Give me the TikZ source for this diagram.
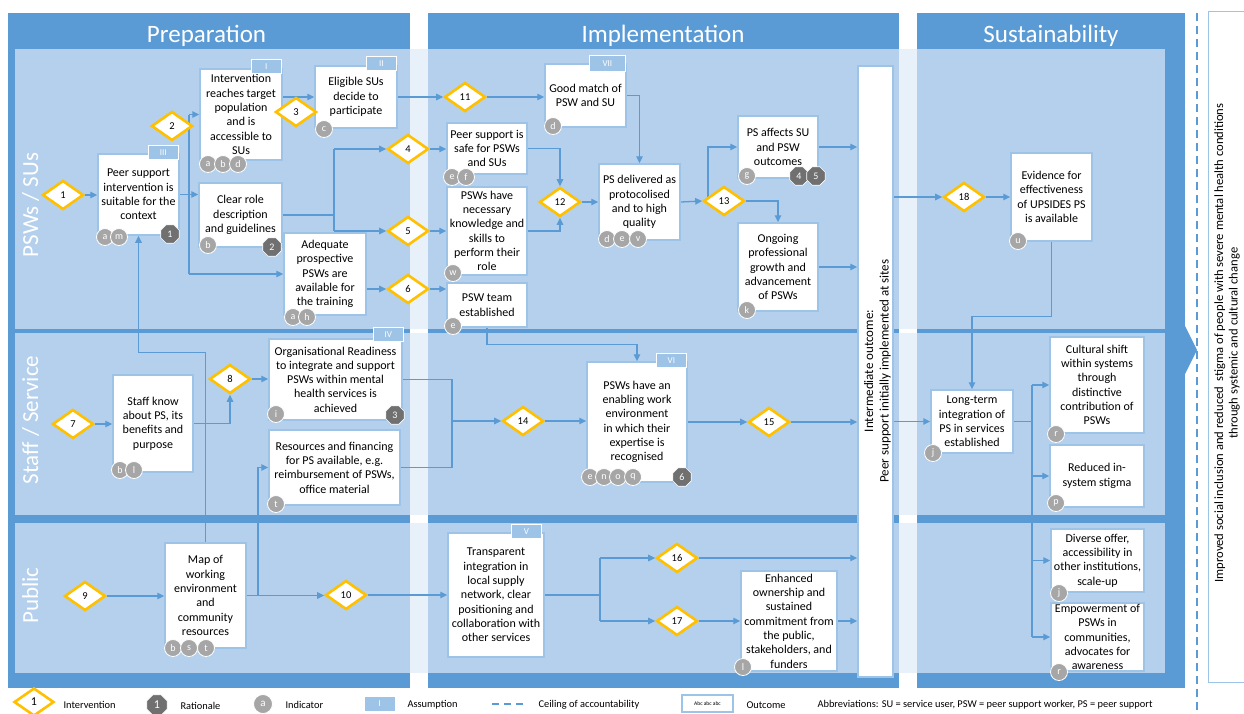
\documentclass[tikz,border=0pt]{standalone}
\usepackage{fontspec}
\setmainfont{Carlito}
\usepackage{tikz}
\usetikzlibrary{arrows.meta, shapes.geometric, calc}
\definecolor{colblue}{RGB}{91, 155, 213}
\definecolor{lanefill}{RGB}{180, 208, 236}
\definecolor{gapfill}{RGB}{232, 240, 249}
\definecolor{boxline}{RGB}{157, 195, 230}
\definecolor{indgray}{RGB}{166, 166, 166}
\definecolor{ratgray}{RGB}{112, 112, 112}
\definecolor{ivyellow}{RGB}{255, 192, 0}
\pgfdeclarelayer{bg}
\pgfdeclarelayer{links}
\pgfsetlayers{bg,links,main}

\begin{document}
\begin{tikzpicture}[x=1pt, y=-1pt,
  outcome/.style={draw=boxline, line width=1.5pt, fill=white, align=center, inner sep=0pt, font=\fontsize{12}{14.3}\selectfont},
  interv/.style={diamond, draw=ivyellow, line width=2.6pt, fill=white, minimum width=41, minimum height=29, inner sep=0pt, font=\fontsize{10.5}{12}\selectfont},
  assum/.style={fill=boxline, draw=white, line width=0.8pt, text=white, minimum width=30, minimum height=14, inner sep=0pt, anchor=north east, font=\fontsize{9}{10}\selectfont},
  indic/.style={circle, fill=indgray, draw=white, line width=0.8pt, text=white, minimum size=17, inner sep=0pt, font=\fontsize{10}{10}\selectfont},
  ration/.style={regular polygon, regular polygon sides=8, fill=ratgray, draw=white, line width=0.6pt, text=white, minimum size=20, inner sep=0pt, font=\fontsize{10}{10}\selectfont},
  link/.style={draw=colblue, line width=1.3pt, -{Triangle[length=7pt, width=6.5pt]}},
  wire/.style={draw=colblue, line width=1.3pt},
  lanelabel/.style={rotate=90, anchor=base, text=white, font=\fontsize{23}{23}\selectfont},
  phase/.style={anchor=base, text=white, font=\fontsize{25}{25}\selectfont},
  legend/.style={anchor=west, font=\fontsize{10.4}{12}\selectfont}]
  \useasboundingbox (0,0) rectangle (1244,713);

  \begin{pgfonlayer}{bg}
    \fill[white] (0,0) rectangle (1244,713);
    \fill[colblue] (8,13) rectangle (410,688);
    \fill[colblue] (428,13) rectangle (899,688);
    \fill[colblue] (917,13) rectangle (1185,688);
    \fill[colblue] (1185,326) -- (1197,350) -- (1185,374) -- cycle;
    \foreach \ya/\yb in {49/329, 333/515, 523/673} {
      \fill[lanefill] (15,\ya) rectangle (1165,\yb);
      \fill[gapfill] (410,\ya) rectangle (428,\yb);
      \fill[gapfill] (899,\ya) rectangle (917,\yb);
    }
    \draw[colblue, line width=1.5pt, dash pattern=on 8pt off 5pt] (1197,13) -- (1197,713);
  \end{pgfonlayer}

  \node[phase] (hprep) at (206.5,42) {Preparation};
  \node[phase] (himpl) at (663,42) {Implementation};
  \node[phase] (hsust) at (1051,42) {Sustainability};
  \node[lanelabel] (lpsw) at (38,205) {PSWs / SUs};
  \node[lanelabel] (lstaff) at (38,420) {Staff / Service};
  \node[lanelabel] (lpub) at (38,595.5) {Public};

  \node[draw=boxline, line width=1.5pt, fill=white, minimum width=35, minimum height=611, inner sep=0pt] (interm) at (875.5,371.5) {};
  \node[rotate=90, align=center, font=\fontsize{13}{15.5}\selectfont] (intermtext) at (877.5,371) {Intermediate outcome:\\Peer support initially implemented at sites};
  \node[draw=boxline, line width=1pt, fill=white, minimum width=42, minimum height=671, inner sep=0pt] (finalout) at (1229,346.5) {};
  \node[rotate=90, align=center, font=\fontsize{12.6}{14.6}\selectfont] (finaltext) at (1227,343) {Improved social inclusion and reduced \ stigma of people with severe mental health conditions\\through systemic and cultural change};

  \node[outcome, minimum width=81, minimum height=81] (suitable) at (138.5,194.5) {Peer support\\intervention is\\suitable for the\\context};
  \node[outcome, minimum width=82, minimum height=91] (reach) at (241,114.5) {Intervention\\reaches target\\population\\and is\\accessible to\\SUs};
  \node[outcome, minimum width=82, minimum height=62] (eligible) at (356,97) {Eligible SUs\\decide to\\participate};
  \node[outcome, minimum width=83, minimum height=64] (role) at (240.5,215) {Clear role\\description\\and guidelines};
  \node[outcome, minimum width=82, minimum height=82] (adequate) at (325,274) {Adequate\\prospective\\PSWs are\\available for\\the training};
  \node[outcome, minimum width=81, minimum height=63] (match) at (585.5,95.5) {Good match of\\PSW and SU};
  \node[outcome, minimum width=80, minimum height=51] (safe) at (487,148.5) {Peer support is\\safe for PSWs\\and SUs};
  \node[outcome, minimum width=80, minimum height=88] (skills) at (487,231) {PSWs have\\necessary\\knowledge and\\skills to\\perform their\\role};
  \node[outcome, minimum width=80, minimum height=44] (team) at (487,305) {PSW team\\established};
  \node[outcome, minimum width=81, minimum height=76] (deliver) at (639.5,202) {PS delivered as\\protocolised\\and to high\\quality};
  \node[outcome, minimum width=80, minimum height=62] (affect) at (778,147) {PS affects SU\\and PSW\\outcomes};
  \node[outcome, minimum width=80, minimum height=88] (growth) at (778,267) {Ongoing\\professional\\growth and\\advancement\\of PSWs};
  \node[outcome, minimum width=81, minimum height=88] (evidence) at (1051.5,197) {Evidence for\\effectiveness\\of UPSIDES PS\\is available};
  \node[outcome, minimum width=80, minimum height=97] (staffknow) at (153,423.5) {Staff know\\about PS, its\\benefits and\\purpose};
  \node[outcome, minimum width=133, minimum height=81] (readiness) at (335.5,379.5) {Organisational Readiness\\to integrate and support\\PSWs within mental\\health services is\\achieved};
  \node[outcome, minimum width=131, minimum height=75] (resources) at (334.5,467.5) {Resources and financing\\for PS available, e.g.\\reimbursement of PSWs,\\office material};
  \node[outcome, minimum width=100, minimum height=120] (enabling) at (637,422) {PSWs have an\\enabling work\\environment\\in which their\\expertise is\\recognised};
  \node[outcome, minimum width=82, minimum height=63] (longterm) at (972,421.5) {Long-term\\integration of\\PS in services\\established};
  \node[outcome, minimum width=94, minimum height=96] (cultural) at (1097,385) {Cultural shift\\within systems\\through\\distinctive\\contribution of\\PSWs};
  \node[outcome, minimum width=94, minimum height=62] (stigma) at (1097,476) {Reduced in-\\system stigma};
  \node[outcome, minimum width=81, minimum height=105] (mapwork) at (205.5,595.5) {Map of\\working\\environment\\and\\community\\resources};
  \node[outcome, minimum width=96, minimum height=124] (transparent) at (496,595) {Transparent\\integration in\\local supply\\network, clear\\positioning and\\collaboration with\\other services};
  \node[outcome, minimum width=96, minimum height=100] (ownership) at (789,621) {Enhanced\\ownership and\\sustained\\commitment from\\the public,\\stakeholders, and\\funders};
  \node[outcome, minimum width=93, minimum height=63] (diverse) at (1097.5,560.5) {Diverse offer,\\accessibility in\\other institutions,\\scale-up};
  \node[outcome, minimum width=93, minimum height=68] (empower) at (1097.5,637) {Empowerment of\\PSWs in\\communities,\\advocates for\\awareness};

  \node[assum] (tagI) at ([xshift=-1pt, yshift=9pt]reach.north east) {I};
  \node[assum] (tagII) at ([xshift=-1pt, yshift=9pt]eligible.north east) {II};
  \node[assum] (tagIII) at ([xshift=-1pt, yshift=8pt]suitable.north east) {III};
  \node[assum] (tagIV) at ([xshift=1pt, yshift=11pt]readiness.north east) {IV};
  \node[assum] (tagV) at ([xshift=-3pt, yshift=8pt]transparent.north east) {V};
  \node[assum] (tagVI) at ([xshift=-1pt, yshift=8pt]enabling.north east) {VI};
  \node[assum, minimum width=36, minimum height=16] (tagVII) at ([xshift=-1pt, yshift=8pt]match.north east) {VII};

  \node[indic] (suit-a) at (105,237) {a};
  \node[indic] (suit-m) at (119,237) {m};
  \node[indic] (reach-a) at (208,164) {a};
  \node[indic] (reach-b) at (223,164) {b};
  \node[indic] (reach-d) at (238,164) {d};
  \node[indic] (elig-c) at (324,129) {c};
  \node[indic] (role-b) at (208,245) {b};
  \node[indic] (adeq-a) at (293,317) {a};
  \node[indic] (adeq-h) at (307,317) {h};
  \node[indic] (match-d) at (553,126) {d};
  \node[indic] (safe-e) at (452,177) {e};
  \node[indic] (safe-f) at (466,177) {f};
  \node[indic] (skills-w) at (453,273) {w};
  \node[indic] (team-e) at (453,326) {e};
  \node[indic] (deliv-d) at (607,239) {d};
  \node[indic] (deliv-e) at (622,239) {e};
  \node[indic] (deliv-v) at (638,239) {v};
  \node[indic] (affect-g) at (747,176) {g};
  \node[indic] (growth-k) at (747,310) {k};
  \node[indic] (evid-u) at (1018,241) {u};
  \node[indic] (staff-b) at (120,470) {b};
  \node[indic] (staff-l) at (134,470) {l};
  \node[indic] (ready-i) at (276,414) {i};
  \node[indic] (res-t) at (276,504) {t};
  \node[indic] (enab-e) at (590,477) {e};
  \node[indic] (enab-n) at (604,477) {n};
  \node[indic] (enab-o) at (618,477) {o};
  \node[indic] (enab-q) at (633,477) {q};
  \node[indic] (long-j) at (933,453) {j};
  \node[indic] (cult-r) at (1056,434) {r};
  \node[indic] (stig-p) at (1056,503) {p};
  \node[indic] (map-b) at (173,648) {b};
  \node[indic] (map-s) at (189,648) {s};
  \node[indic] (map-t) at (206,648) {t};
  \node[indic] (own-l) at (743,667) {l};
  \node[indic] (div-j) at (1059,593) {j};
  \node[indic] (emp-r) at (1059,672) {r};

  \node[ration] (rat1) at (170,234) {1};
  \node[ration] (rat2) at (272,247) {2};
  \node[ration] (rat3) at (395,415) {3};
  \node[ration] (rat4) at (799,176) {4};
  \node[ration] (rat5) at (816,176) {5};
  \node[ration] (rat6) at (682,477) {6};

  \node[interv] (d1) at (63,195) {1};
  \node[interv] (d2) at (172,126) {2};
  \node[interv] (d3) at (296,112) {3};
  \node[interv] (d4) at (408,149) {4};
  \node[interv] (d5) at (408,231) {5};
  \node[interv] (d6) at (408,289) {6};
  \node[interv] (d7) at (73,424) {7};
  \node[interv] (d8) at (230,379) {8};
  \node[interv] (d9) at (85,596) {9};
  \node[interv] (d10) at (346,595) {10};
  \node[interv] (d11) at (465,97) {11};
  \node[interv] (d12) at (560,202) {12};
  \node[interv] (d13) at (724,201) {13};
  \node[interv] (d14) at (523,421) {14};
  \node[interv] (d15) at (769,422) {15};
  \node[interv] (d16) at (677,558) {16};
  \node[interv] (d17) at (677,621) {17};
  \node[interv] (d18) at (964,197) {18};

  \coordinate (busA) at (189,194.5);
  \coordinate (busB) at (334,215);
  \coordinate (split13) at (708,197);
  \coordinate (busD) at (1032,421.5);
  \coordinate (busE) at (452,421);
  \coordinate (busF) at (258,595.5);
  \coordinate (busG) at (600,595);

  \begin{pgfonlayer}{links}
    \draw[link] (d1.east) -- (d1.east -| suitable.west);
    \draw[link] (suitable.east) -- (suitable.east -| role.west);
    \draw[wire] (busA |- reach.west) -- (busA |- adequate.west);
    \draw[link] (busA |- reach.west) -- (reach.west);
    \draw[link] (busA |- adequate.west) -- (adequate.west);
    \draw[link] (eligible.west -| reach.east) -- (eligible.west);
    \draw[link] (eligible.east) -- (d11.west);
    \draw[link] (d11.east) -- (d11.east -| match.west);
    \draw[wire] (role.east) -- (busB);
    \draw[wire] (busB |- d4) -- (busB |- d5);
    \draw[link] (busB |- d4) -- (d4.west);
    \draw[link] (busB |- d5) -- (d5.west);
    \draw[link] (d6 -| adequate.east) -- (d6.west);
    \draw[link] (d4.east) -- (d4.east -| safe.west);
    \draw[link] (d5.east) -- (d5.east -| skills.west);
    \draw[link] (d6.east) -- (d6.east -| team.west);
    \draw[link] (safe.east) -| (d12.north);
    \draw[link] (skills.east) -| (d12.south);
    \draw[link] (d12.east) -- (d12.east -| deliver.west);
    \draw[link] (match.east) -| (deliver.north);
    \draw[link] (deliver.east) -- (d13.west);
    \draw[link] (split13) |- (affect.west);
    \draw[link] (d13.east) -| (growth.north);
    \draw[link] (affect.east) -- (affect.east -| interm.west);
    \draw[link] (growth.east) -- (growth.east -| interm.west);
    \draw[link] (team.south) -- ++(0,17) -| (enabling.north);
    \draw[link] (d18 -| interm.east) -- (d18.west);
    \draw[link] (d18.east) -- (d18.east -| evidence.west);
    \draw[link] (evidence.south) -- ++(0,75) -| (longterm.north);
    \draw[link] (longterm.west -| interm.east) -- (longterm.west);
    \draw[wire] (longterm.east) -- (busD);
    \draw[wire] (busD |- cultural.west) -- (busD |- empower.west);
    \draw[link] (busD |- cultural.west) -- (cultural.west);
    \draw[link] (busD |- stigma.west) -- (stigma.west);
    \draw[link] (busD |- diverse.west) -- (diverse.west);
    \draw[link] (busD |- empower.west) -- (empower.west);
    \draw[link] (d7.east) -- (d7.east -| staffknow.west);
    \draw[link] (staffknow.east) -| (d8.south);
    \draw[link] (d8.east) -- (d8.east -| readiness.west);
    \draw[wire] (readiness.east) -| (busE);
    \draw[wire] (resources.east) -| (busE);
    \draw[link] (busE) -- (d14.west);
    \draw[link] (d14.east) -- (d14.east -| enabling.west);
    \draw[link] (enabling.east) -- (enabling.east -| d15.west);
    \draw[link] (d15.east) -- (d15.east -| interm.west);
    \draw[link] (d9.east) -- (d9.east -| mapwork.west);
    \draw[link] (mapwork.east) -- (mapwork.east -| d10.west);
    \draw[link] (busF) |- (resources.west);
    \draw[link] (mapwork.north) -- ++(0,-190) -| (suitable.south);
    \draw[link] (d10.east) -- (d10.east -| transparent.west);
    \draw[wire] (transparent.east) -- (busG);
    \draw[wire] (busG |- d16) -- (busG |- d17);
    \draw[link] (busG |- d16) -- (d16.west);
    \draw[link] (busG |- d17) -- (d17.west);
    \draw[link] (d16.east) -- (d16.east -| interm.west);
    \draw[link] (d17.east) -- (d17.east -| ownership.west);
    \draw[link] (ownership.east) -- (ownership.east -| interm.west);
  \end{pgfonlayer}

  \node[interv, minimum width=40, minimum height=28, font=\fontsize{12}{12}\selectfont] (legd) at (34,702) {1};
  \node[legend] (legdt) at (60,705) {Intervention};
  \node[ration, minimum size=22, font=\fontsize{12}{12}\selectfont] (legr) at (157,705) {1};
  \node[legend] (legrt) at (177,706) {Rationale};
  \node[indic, minimum size=19, font=\fontsize{11}{11}\selectfont] (legi) at (263,704) {a};
  \node[legend] (legit) at (282,705) {Indicator};
  \node[assum, anchor=center, minimum width=31, minimum height=15] (lega) at (379.5,704) {I};
  \node[legend] (legat) at (404,705) {Assumption};
  \draw[colblue, line width=1.5pt, dash pattern=on 7pt off 5pt] (492,704) -- (527,704);
  \node[legend] (legct) at (535,705) {Ceiling of accountability};
  \node[outcome, minimum width=51, minimum height=17, font=\fontsize{5.5}{6}\selectfont] (lego) at (707.5,703.5) {Abc abc abc};
  \node[legend] (legot) at (743,705) {Outcome};
  \node[legend] (legab) at (814,705) {Abbreviations: SU = service user, PSW = peer support worker, PS = peer support};
\end{tikzpicture}
\end{document}
